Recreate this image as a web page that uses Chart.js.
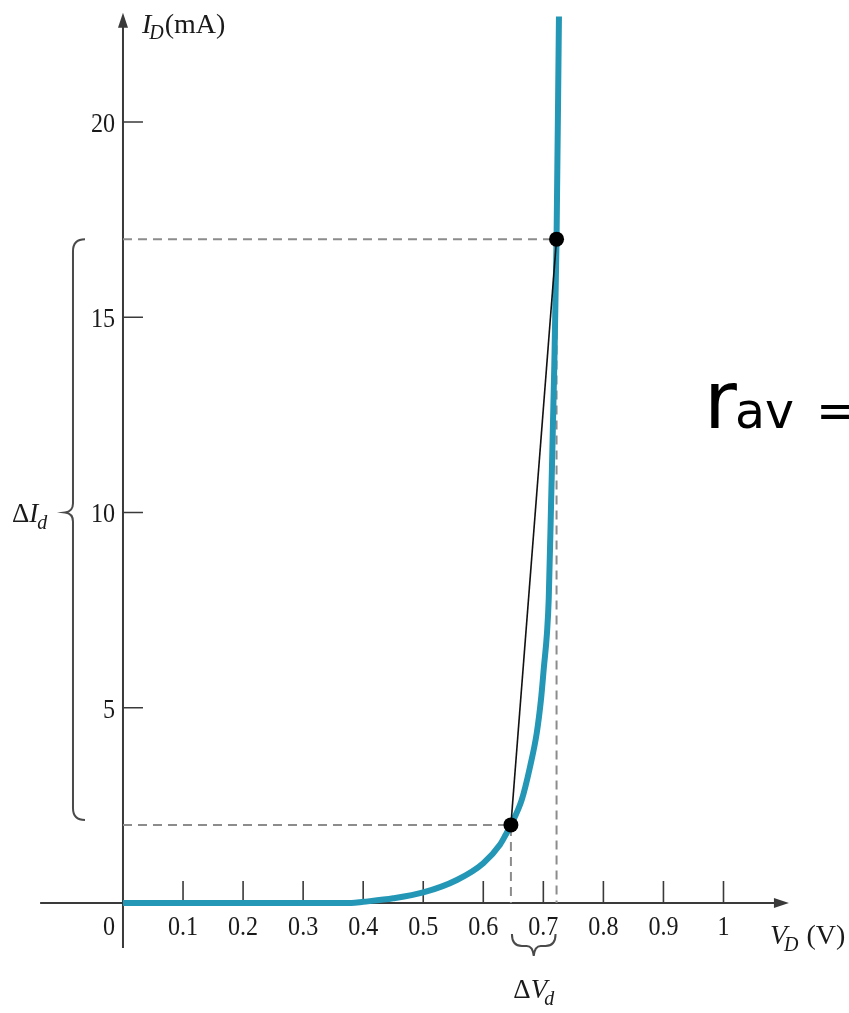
<!DOCTYPE html>
<html>
<head>
<meta charset="utf-8">
<title>Diode I-V curve</title>
<script src="https://cdn.jsdelivr.net/npm/chart.js@4.4.1/dist/chart.umd.min.js"></script>
<style>
    html, body { margin: 0; padding: 0; background: #fff; overflow: hidden; }
    #wrap { position: relative; width: 849px; height: 1013px; }
</style>
</head>
<body>
<div id="wrap"><canvas id="ivChart"></canvas></div>
<script>
// diode forward characteristic, V in volts, I in mA
var curveV = [0, 0.10, 0.20, 0.30, 0.38, 0.40, 0.45, 0.50, 0.556, 0.60, 0.628, 0.637, 0.646, 0.664, 0.678, 0.689, 0.696, 0.701, 0.706, 0.709, 0.713, 0.718, 0.722, 0.726];
var curveI = [0, 0, 0, 0, 0, 0.03, 0.12, 0.27, 0.59, 1.02, 1.5, 1.74, 2.0, 2.64, 3.5, 4.35, 5.2, 6.05, 6.9, 7.8, 10.3, 13.6, 17, 22.7];

// the two operating points used for r_av
var pointV = [0.646, 0.722];
var pointI = [2, 17];

var xTicks = [0.1, 0.2, 0.3, 0.4, 0.5, 0.6, 0.7, 0.8, 0.9, 1];
var xTickLabels = ['0.1', '0.2', '0.3', '0.4', '0.5', '0.6', '0.7', '0.8', '0.9', '1'];
var yTicks = [5, 10, 15, 20];
var yTickLabels = ['5', '10', '15', '20'];

// value range of the plot and where the drawn axes end
var xRange = [-0.2048, 1.209];
var yRange = [-2.817, 23.124];
var xAxisEnds = [-0.138, 1.109];
var yAxisEnds = [-1.15, 22.8];
var braceMidI = 10;

var TEAL = '#2497b6';
var AXIS = '#3a3a3a';
var SERIF = '"Liberation Serif", "Times New Roman", serif';

function toXY(vs, is) {
    var pts = [];
    for (var i = 0; i < vs.length; i++) {
        pts.push({x: vs[i], y: is[i]});
    }
    return pts;
}

function textWidth(ctx, parts) {
    var w = 0;
    parts.forEach(function (p) {
        ctx.font = p.font;
        w += ctx.measureText(p.text).width + (p.gap || 0);
    });
    return w;
}

function drawParts(ctx, parts, x, y) {
    ctx.textAlign = 'left';
    parts.forEach(function (p) {
        ctx.font = p.font;
        ctx.fillText(p.text, x, y + (p.dy || 0));
        x += ctx.measureText(p.text).width + (p.gap || 0);
    });
}

// tick numbers are a narrow serif
function tickText(ctx, text, x, y, align) {
    ctx.save();
    ctx.translate(x, y);
    ctx.scale(0.86, 1);
    ctx.font = '28px ' + SERIF;
    ctx.textAlign = align;
    ctx.fillText(text, 0, 0);
    ctx.restore();
}

function arrowHead(ctx, tx, ty, dir) {
    ctx.beginPath();
    if (dir === 'up') {
        ctx.moveTo(tx, ty);
        ctx.lineTo(tx - 5, ty + 15);
        ctx.lineTo(tx + 5, ty + 15);
    } else {
        ctx.moveTo(tx, ty);
        ctx.lineTo(tx - 15, ty - 5);
        ctx.lineTo(tx - 15, ty + 5);
    }
    ctx.closePath();
    ctx.fill();
}

var axesPlugin = {
    id: 'ivAxes',
    beforeDatasetsDraw: function (chart) {
        var ctx = chart.ctx;
        var xs = chart.scales.x;
        var ys = chart.scales.y;
        var x0 = xs.getPixelForValue(0);
        var y0 = ys.getPixelForValue(0);

        ctx.save();
        ctx.strokeStyle = AXIS;
        ctx.fillStyle = AXIS;
        ctx.lineWidth = 2;

        // axis lines
        var xl = xs.getPixelForValue(xAxisEnds[0]);
        var xr = xs.getPixelForValue(xAxisEnds[1]);
        var yb = ys.getPixelForValue(yAxisEnds[0]);
        var yt = ys.getPixelForValue(yAxisEnds[1]);
        ctx.beginPath();
        ctx.moveTo(xl, y0);
        ctx.lineTo(xr - 10, y0);
        ctx.moveTo(x0, yb);
        ctx.lineTo(x0, yt + 10);
        ctx.stroke();
        arrowHead(ctx, xr, y0, 'right');
        arrowHead(ctx, x0, yt, 'up');

        // tick marks
        ctx.lineWidth = 1.6;
        ctx.beginPath();
        xTicks.forEach(function (v) {
            var px = xs.getPixelForValue(v);
            ctx.moveTo(px, y0);
            ctx.lineTo(px, y0 - 22);
        });
        yTicks.forEach(function (v) {
            var py = ys.getPixelForValue(v);
            ctx.moveTo(x0, py);
            ctx.lineTo(x0 + 20, py);
        });
        ctx.stroke();

        // tick labels
        ctx.fillStyle = '#1a1a1a';
        ctx.textBaseline = 'alphabetic';
        xTicks.forEach(function (v, i) {
            tickText(ctx, xTickLabels[i], xs.getPixelForValue(v), y0 + 32, 'center');
        });
        tickText(ctx, '0', x0 - 8, y0 + 32, 'right');
        yTicks.forEach(function (v, i) {
            tickText(ctx, yTickLabels[i], x0 - 8, ys.getPixelForValue(v) + 10, 'right');
        });

        // axis titles
        drawParts(ctx, [
            {text: 'I', font: 'italic 28px ' + SERIF, gap: -2},
            {text: 'D', font: 'italic 20px ' + SERIF, dy: 6, gap: 1},
            {text: '(mA)', font: '28px ' + SERIF}
        ], x0 + 19, yt + 20);
        drawParts(ctx, [
            {text: 'V', font: 'italic 28px ' + SERIF, gap: -3},
            {text: 'D', font: 'italic 20px ' + SERIF, dy: 7, gap: 8},
            {text: '(V)', font: '28px ' + SERIF}
        ], xr - 19, y0 + 41);

        // brace for delta I
        var bx = x0 - 50;
        var bTop = ys.getPixelForValue(pointI[1]);
        var bBot = ys.getPixelForValue(pointI[0]) - 5;
        var bMid = ys.getPixelForValue(braceMidI);
        ctx.strokeStyle = '#4a4a4a';
        ctx.lineWidth = 2;
        ctx.beginPath();
        ctx.moveTo(bx + 12, bTop);
        ctx.quadraticCurveTo(bx, bTop, bx, bTop + 12);
        ctx.lineTo(bx, bMid - 9);
        ctx.quadraticCurveTo(bx, bMid - 1, bx - 8, bMid);
        ctx.quadraticCurveTo(bx, bMid + 1, bx, bMid + 9);
        ctx.lineTo(bx, bBot - 12);
        ctx.quadraticCurveTo(bx, bBot, bx + 12, bBot);
        ctx.stroke();
        drawParts(ctx, [
            {text: '\u0394', font: '27px ' + SERIF},
            {text: 'I', font: 'italic 27px ' + SERIF, gap: -1},
            {text: 'd', font: 'italic 20px ' + SERIF, dy: 7}
        ], 12, bMid + 10);

        // brace for delta V
        var vl = xs.getPixelForValue(pointV[0]) + 1;
        var vr = xs.getPixelForValue(pointV[1]) - 1;
        var vm = (vl + vr) / 2;
        var by = y0 + 43;
        ctx.beginPath();
        ctx.moveTo(vl, by - 12);
        ctx.quadraticCurveTo(vl, by, vl + 10, by);
        ctx.lineTo(vm - 7, by);
        ctx.quadraticCurveTo(vm - 1, by, vm, by + 10);
        ctx.quadraticCurveTo(vm + 1, by, vm + 7, by);
        ctx.lineTo(vr - 10, by);
        ctx.quadraticCurveTo(vr, by, vr, by - 12);
        ctx.stroke();
        var dv = [
            {text: '\u0394', font: '27px ' + SERIF},
            {text: 'V', font: 'italic 27px ' + SERIF, gap: -3},
            {text: 'd', font: 'italic 20px ' + SERIF, dy: 7}
        ];
        drawParts(ctx, dv, vm - textWidth(ctx, dv) / 2, y0 + 95);

        ctx.restore();
    },
    afterDatasetsDraw: function (chart) {
        var ctx = chart.ctx;
        ctx.save();
        ctx.fillStyle = '#000';
        ctx.textBaseline = 'alphabetic';
        drawParts(ctx, [
            {text: 'r', font: '80px "DejaVu Sans", sans-serif', gap: -2},
            {text: 'av', font: '49px "DejaVu Sans", sans-serif', gap: 22},
            {text: '=', font: '49px "DejaVu Sans", sans-serif'}
        ], 704, 428);
        ctx.restore();
    }
};

var ctx = document.getElementById('ivChart').getContext('2d');
var ivChart = new Chart(ctx, {
    type: 'scatter',
    data: {
        datasets: [
            {
                label: 'points',
                data: toXY(pointV, pointI),
                pointRadius: 7.5,
                pointBackgroundColor: '#000',
                pointBorderWidth: 0,
                showLine: false
            },
            {
                label: 'chord',
                data: toXY(pointV, pointI),
                showLine: true,
                borderColor: '#111',
                borderWidth: 1.6,
                pointRadius: 0
            },
            {
                label: 'I_D',
                data: toXY(curveV, curveI),
                showLine: true,
                borderColor: TEAL,
                borderWidth: 6,
                pointRadius: 0,
                cubicInterpolationMode: 'monotone'
            },
            {
                label: 'guide high',
                data: [{x: 0, y: pointI[1]}, {x: pointV[1], y: pointI[1]}, {x: pointV[1], y: 0}],
                showLine: true,
                borderColor: '#8c8c8c',
                borderWidth: 2,
                borderDash: [9, 6],
                pointRadius: 0
            },
            {
                label: 'guide low',
                data: [{x: 0, y: pointI[0]}, {x: pointV[0], y: pointI[0]}, {x: pointV[0], y: 0}],
                showLine: true,
                borderColor: '#8c8c8c',
                borderWidth: 2,
                borderDash: [9, 6],
                pointRadius: 0
            }
        ]
    },
    options: {
        responsive: true,
        maintainAspectRatio: false,
        animation: false,
        layout: {padding: 0, autoPadding: false},
        plugins: {
            legend: {display: false},
            tooltip: {enabled: false}
        },
        scales: {
            x: {type: 'linear', display: false, min: xRange[0], max: xRange[1]},
            y: {type: 'linear', display: false, min: yRange[0], max: yRange[1]}
        }
    },
    plugins: [axesPlugin]
});
</script>
</body>
</html>
